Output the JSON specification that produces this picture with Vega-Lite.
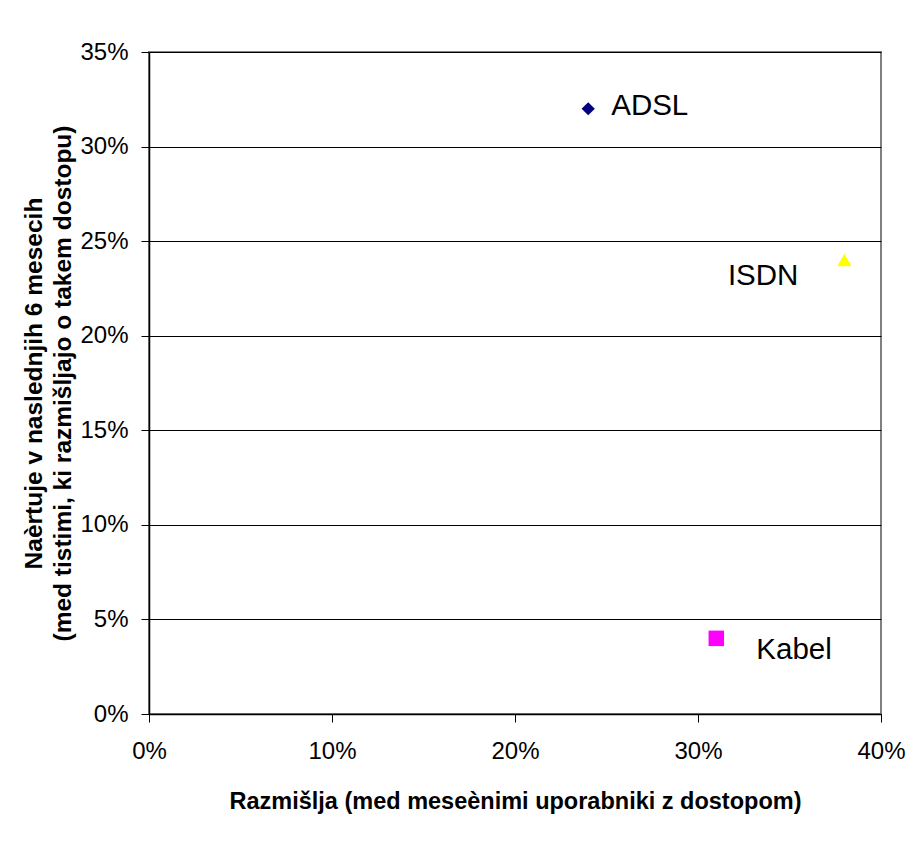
{
  "$schema": "https://vega.github.io/schema/vega-lite/v6.json",
  "width": 732,
  "height": 662,
  "autosize": {"type": "none"},
  "padding": {"left": 149, "top": 52, "right": 40, "bottom": 131},
  "background": "white",
  "config": {
    "font": "Liberation Sans",
    "view": {"stroke": "#808080", "strokeWidth": 2}
  },
  "data": {
    "values": [
      {"tip": "ADSL", "razmislja": 0.24, "nacrtuje": 0.32},
      {"tip": "ISDN", "razmislja": 0.38, "nacrtuje": 0.24},
      {"tip": "Kabel", "razmislja": 0.31, "nacrtuje": 0.04}
    ]
  },
  "encoding": {
    "x": {
      "field": "razmislja",
      "type": "quantitative",
      "scale": {"domain": [0, 0.4], "nice": false, "zero": true},
      "axis": {
        "title": "Razmišlja (med meseènimi uporabniki z dostopom)",
        "format": ".0%",
        "values": [0, 0.1, 0.2, 0.3, 0.4],
        "grid": false,
        "domainColor": "black",
        "domainWidth": 1.5,
        "tickColor": "black",
        "tickSize": 8,
        "labelFontSize": 24,
        "labelColor": "black",
        "labelPadding": 17,
        "labelFlush": false,
        "titleFontSize": 23.5,
        "titleFontWeight": "bold",
        "titleColor": "black",
        "titlePadding": 26
      }
    },
    "y": {
      "field": "nacrtuje",
      "type": "quantitative",
      "scale": {"domain": [0, 0.35], "nice": false, "zero": true},
      "axis": {
        "title": ["Naèrtuje v naslednjih 6 mesecih", "(med tistimi, ki razmišljajo o takem dostopu)"],
        "format": ".0%",
        "values": [0, 0.05, 0.1, 0.15, 0.2, 0.25, 0.3, 0.35],
        "grid": true,
        "gridColor": "black",
        "gridWidth": 1,
        "domainColor": "black",
        "domainWidth": 1.5,
        "tickColor": "black",
        "tickSize": 8,
        "labelFontSize": 24,
        "labelColor": "black",
        "labelPadding": 13,
        "labelFlush": false,
        "titleFontSize": 24.5,
        "titleFontWeight": "bold",
        "titleColor": "black",
        "titleLineHeight": 29,
        "titlePadding": 4
      }
    }
  },
  "layer": [
    {
      "mark": {"type": "point", "filled": true, "opacity": 1},
      "encoding": {
        "shape": {
          "field": "tip",
          "type": "nominal",
          "scale": {"domain": ["ADSL", "ISDN", "Kabel"], "range": ["diamond", "triangle-up", "square"]},
          "legend": null
        },
        "color": {
          "field": "tip",
          "type": "nominal",
          "scale": {"domain": ["ADSL", "ISDN", "Kabel"], "range": ["#000080", "#FFFF00", "#FF00FF"]},
          "legend": null
        },
        "size": {
          "field": "tip",
          "type": "nominal",
          "scale": {"domain": ["ADSL", "ISDN", "Kabel"], "range": [175, 240, 196]},
          "legend": null
        }
      }
    },
    {
      "transform": [{"filter": "datum.tip === 'ADSL'"}],
      "mark": {"type": "text", "align": "left", "baseline": "middle", "dx": 23, "dy": -3, "fontSize": 29.5, "color": "black"},
      "encoding": {"text": {"field": "tip"}}
    },
    {
      "transform": [{"filter": "datum.tip === 'ISDN'"}],
      "mark": {"type": "text", "align": "right", "baseline": "middle", "dx": -46, "dy": 16, "fontSize": 29.5, "color": "black"},
      "encoding": {"text": {"field": "tip"}}
    },
    {
      "transform": [{"filter": "datum.tip === 'Kabel'"}],
      "mark": {"type": "text", "align": "left", "baseline": "middle", "dx": 40, "dy": 12, "fontSize": 29.5, "color": "black"},
      "encoding": {"text": {"field": "tip"}}
    }
  ]
}
